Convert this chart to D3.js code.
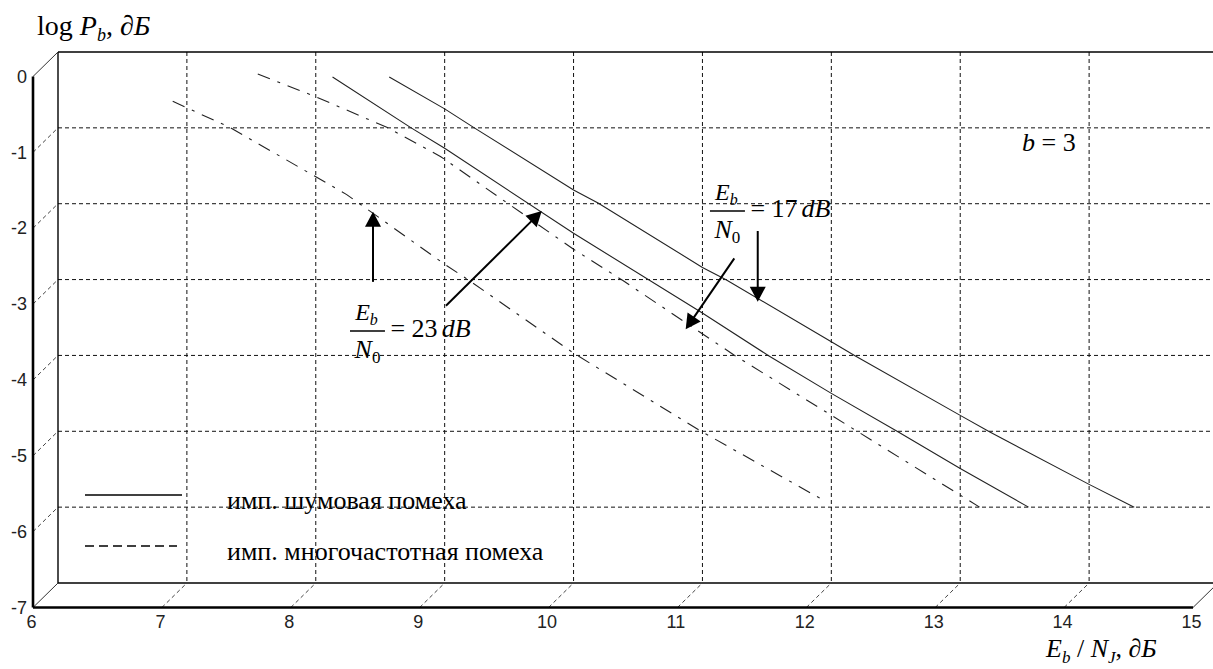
<!DOCTYPE html>
<html>
<head>
<meta charset="utf-8">
<script src="https://cdn.jsdelivr.net/npm/d3@7/dist/d3.min.js"></script>
<style>
  body { margin: 0; background: #fff; }
  svg { display: block; }
  .tick text { font-family: "Liberation Sans", Arial, sans-serif; font-size: 18px; fill: #222; }
  .math { font-family: "Liberation Serif", "Times New Roman", serif; fill: #000; }
</style>
</head>
<body>
<svg id="chart"></svg>
<script>
const W = 1213, H = 669;

// axis ticks
const xTicks = [6, 7, 8, 9, 10, 11, 12, 13, 14, 15];
const yTicks = [0, -1, -2, -3, -4, -5, -6, -7];

// Eb/N0 = 23 dB
const noise23X = [8.13, 8.74, 9.0, 10.0, 10.99, 11.51, 12.0, 12.52, 13.0, 13.53];
const noise23Y = [-0.33, -1.0, -1.27, -2.39, -3.43, -4.0, -4.5, -5.01, -5.49, -6.0];
const multi23X = [6.89, 7.34, 8.24, 9.01, 9.18, 10.0, 10.99, 11.94];
const multi23Y = [-0.65, -1.0, -1.88, -2.81, -3.0, -3.97, -5.0, -5.91];

// Eb/N0 = 17 dB
const noise17X = [8.57, 9.0, 9.23, 10.0, 10.19, 11.0, 11.18, 12.0, 12.18, 13.0, 13.23, 14.0, 14.35];
const noise17Y = [-0.33, -0.75, -1.0, -1.82, -1.99, -2.84, -3.0, -3.82, -4.0, -4.79, -5.01, -5.7, -6.0];
const multi17X = [7.55, 8.0, 8.56, 8.97, 10.0, 10.38, 11.25, 12.21, 13.15];
const multi17Y = [-0.29, -0.59, -1.0, -1.38, -2.6, -3.01, -4.0, -5.01, -6.0];

const legendLabels = ['имп. шумовая помеха', 'имп. многочастотная помеха'];

const svg = d3.select('#chart').attr('width', W).attr('height', H);
svg.append('rect').attr('width', W).attr('height', H).attr('fill', '#fff');

const x = d3.scaleLinear().domain([6, 15]).range([33, 1193]);
const y = d3.scaleLinear().domain([-7, 0]).range([607.5, 76.5]);
// back plane is shifted up/right (fake 3d view)
const depthX = 25, depthY = -24.5;
const bx = v => x(v) + depthX;
const by = v => y(v) + depthY;

const zip = (a, b) => a.map((v, i) => [v, b[i]]);

const seg = (x1, y1, x2, y2, w, col, dash) => {
  svg.append('line')
    .attr('x1', x1).attr('y1', y1).attr('x2', x2).attr('y2', y2)
    .attr('stroke', col).attr('stroke-width', w)
    .attr('stroke-dasharray', dash || null);
};

const inX = xTicks.filter(v => v > 6 && v < 15);
const inY = yTicks.filter(v => v < 0 && v > -7);

// grid on back wall
inX.forEach(v => seg(bx(v), by(0), bx(v), by(-7), 1, '#111', '4,3'));
inY.forEach(v => seg(bx(6), by(v), bx(15), by(v), 1, '#111', '4,3'));
// grid on floor and left wall
inX.forEach(v => seg(x(v), y(-7), bx(v), by(-7), 1, '#444', '4,3'));
inY.forEach(v => seg(x(6), y(v), bx(6), by(v), 1, '#444', '4,3'));

// box
seg(bx(6), by(0), bx(15), by(0), 1.6, '#000');
seg(bx(6), by(0), bx(6), by(-7), 1.4, '#000');
seg(bx(6), by(-7), bx(15), by(-7), 1.4, '#000');
seg(x(6), y(0), bx(6), by(0), 1, '#333');
seg(x(6), y(-7), bx(6), by(-7), 1, '#333');
seg(x(15), y(-7), bx(15), by(-7), 1, '#333');
seg(x(6), y(0), x(6), y(-7), 2.6, '#000');
seg(x(6), y(-7), x(15), y(-7), 2.6, '#000');

// tick labels
const xAxis = svg.append('g')
  .attr('transform', `translate(0,${y(-7)})`)
  .call(d3.axisBottom(x).tickValues(xTicks).tickSize(0).tickPadding(8).tickFormat(d => String(d)));
xAxis.select('.domain').remove();
xAxis.selectAll('text').attr('dx', -2);

const yAxis = svg.append('g')
  .attr('transform', `translate(${x(6)},0)`)
  .call(d3.axisLeft(y).tickValues(yTicks).tickSize(0).tickPadding(6).tickFormat(d => String(d)));
yAxis.select('.domain').remove();
svg.selectAll('.tick text').attr('font-family', null).attr('font-size', null);

// curves
const line = d3.line().x(d => bx(d[0])).y(d => by(d[1]));
const curves = [
  { pts: zip(noise23X, noise23Y), dash: null },
  { pts: zip(noise17X, noise17Y), dash: null },
  { pts: zip(multi23X, multi23Y), dash: '13,8,3,8' },
  { pts: zip(multi17X, multi17Y), dash: '13,8,3,8' }
];
svg.selectAll('path.curve')
  .data(curves)
  .enter()
  .append('path')
  .attr('class', 'curve')
  .attr('d', d => line(d.pts))
  .attr('fill', 'none')
  .attr('stroke', '#222')
  .attr('stroke-width', 1.1)
  .attr('stroke-dasharray', d => d.dash);

// arrows
const arrows = [
  { from: [8.444, -3.03], to: [8.444, -2.105] },
  { from: [9.01, -3.345], to: [9.753, -2.096] },
  { from: [11.247, -2.72], to: [10.87, -3.656] },
  { from: [11.429, -2.36], to: [11.429, -3.292] }
];
arrows.forEach(a => {
  const x1 = bx(a.from[0]), y1 = by(a.from[1]);
  const x2 = bx(a.to[0]), y2 = by(a.to[1]);
  const len = Math.hypot(x2 - x1, y2 - y1);
  const ux = (x2 - x1) / len, uy = (y2 - y1) / len;
  const hl = 15, hw = 8;
  const baseX = x2 - ux * hl, baseY = y2 - uy * hl;
  seg(x1, y1, baseX + ux * 2, baseY + uy * 2, 2, '#000');
  svg.append('polygon')
    .attr('points', [
      [x2, y2],
      [baseX - uy * hw, baseY + ux * hw],
      [baseX + uy * hw, baseY - ux * hw]
    ].map(p => p.join(',')).join(' '))
    .attr('fill', '#000');
});

// Eb/N0 labels
const ratios = [
  { x: 8.401, y: -3.678, value: '23' },
  { x: 11.194, y: -2.096, value: '17' }
];
ratios.forEach(r => {
  const cx = bx(r.x), cy = by(r.y);
  seg(cx - 17.5, cy, cx + 17.5, cy, 1.3, '#000');
  const num = svg.append('text').attr('class', 'math')
    .attr('x', cx - 1).attr('y', cy - 11).attr('text-anchor', 'middle').attr('font-size', 24);
  num.append('tspan').attr('font-style', 'italic').text('E');
  num.append('tspan').attr('font-style', 'italic').attr('font-size', 16).attr('dy', 5).text('b');
  const den = svg.append('text').attr('class', 'math')
    .attr('x', cx).attr('y', cy + 27).attr('text-anchor', 'middle').attr('font-size', 26);
  den.append('tspan').attr('font-style', 'italic').text('N');
  den.append('tspan').attr('font-size', 17).attr('dy', 5).text('0');
  const rhs = svg.append('text').attr('class', 'math')
    .attr('x', cx + 23).attr('y', cy + 6).attr('font-size', 26);
  rhs.append('tspan').text('= ' + r.value);
  rhs.append('tspan').attr('dx', 4).attr('font-style', 'italic').text('dB');
});

// b = 3
const bLabel = svg.append('text').attr('class', 'math')
  .attr('x', bx(13.48)).attr('y', by(-1.30)).attr('font-size', 26);
bLabel.append('tspan').attr('font-style', 'italic').text('b');
bLabel.append('tspan').text(' = 3');

// axis titles
const yTitle = svg.append('text').attr('class', 'math')
  .attr('x', 37).attr('y', 35).attr('font-size', 28);
yTitle.append('tspan').text('log ');
yTitle.append('tspan').attr('font-style', 'italic').text('P');
yTitle.append('tspan').attr('font-style', 'italic').attr('font-size', 18).attr('dy', 6).text('b');
yTitle.append('tspan').attr('dy', -6).text(', ');
yTitle.append('tspan').attr('font-style', 'italic').text('∂Б');

const xTitle = svg.append('text').attr('class', 'math')
  .attr('x', 1046).attr('y', 657).attr('font-size', 26);
xTitle.append('tspan').attr('font-style', 'italic').text('E');
xTitle.append('tspan').attr('font-style', 'italic').attr('font-size', 17).attr('dy', 6).text('b');
xTitle.append('tspan').attr('dy', -6).text(' / ');
xTitle.append('tspan').attr('font-style', 'italic').text('N');
xTitle.append('tspan').attr('font-style', 'italic').attr('font-size', 17).attr('dy', 6).text('J');
xTitle.append('tspan').attr('dy', -6).text(', ');
xTitle.append('tspan').attr('font-style', 'italic').text('∂Б');

// legend
const legend = svg.append('g');
legendLabels.forEach((t, i) => {
  const ly = 495 + i * 51;
  legend.append('line')
    .attr('x1', 85).attr('x2', i ? 177 : 182).attr('y1', ly).attr('y2', ly)
    .attr('stroke', '#000').attr('stroke-width', 1.6)
    .attr('stroke-dasharray', i ? '9,5' : null);
  legend.append('text').attr('class', 'math')
    .attr('x', 227).attr('y', ly + 14).attr('font-size', 26)
    .text(t);
});
</script>
</body>
</html>
